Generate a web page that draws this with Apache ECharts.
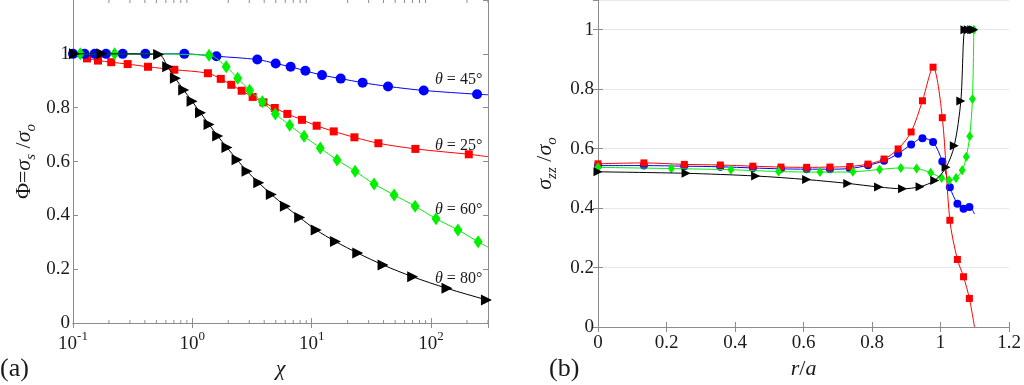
<!DOCTYPE html>
<html><head><meta charset="utf-8">
<script src="https://cdn.jsdelivr.net/npm/echarts@6/dist/echarts.min.js"></script>
<style>html,body{margin:0;padding:0;background:#fff}#c{width:1024px;height:385px}</style>
</head><body><div id="c"></div>
<script>
const FONT = 'Liberation Serif, Times New Roman, serif';
const AX = '#8c8c8c', TXT = '#1a1a1a';

// ---------- panel (a): Phi vs chi (log x) ----------
const aEnd45 = [300, 0.848];
const a45 = [[0.1,1],[0.125,1],[0.152,1],[0.189,1],[0.261,1],[0.404,1],[0.857,1],[1.59,0.991],[3.5,0.979],[4.99,0.964],[6.66,0.952],[8.85,0.937],[12.2,0.921],[17.5,0.908],[26.7,0.893],[43.6,0.879],[86.8,0.864],[243,0.850]];
const aStart25 = [0.1, 0.992], aEnd25 = [300, 0.618];
const a25 = [[0.131,0.983],[0.162,0.975],[0.209,0.969],[0.287,0.962],[0.425,0.952],[0.706,0.941],[1.35,0.928],[1.73,0.907],[2.12,0.885],[2.59,0.863],[3.20,0.840],[3.94,0.820],[4.90,0.799],[6.25,0.777],[8.29,0.755],[11.0,0.733],[15.3,0.712],[22.8,0.690],[36.2,0.668],[73.9,0.647],[207,0.627]];
const aStart60 = [0.1, 1.0],   aEnd60 = [300, 0.282];
const a60 = [[0.115,1],[0.223,1],[1.38,0.995],[1.92,0.952],[2.40,0.909],[3.02,0.865],[3.86,0.822],[4.96,0.777],[6.54,0.735],[8.63,0.694],[11.8,0.650],[16.3,0.606],[23.1,0.564],[33.3,0.517],[49.0,0.476],[73.5,0.434],[110,0.388],[168,0.346],[248,0.302]];
const aEnd80 = [300, 0.084];
const a80 = [[0.103,1],[0.175,1],[0.522,0.998],[0.621,0.952],[0.721,0.909],[0.846,0.866],[0.994,0.824],[1.17,0.781],[1.38,0.738],[1.63,0.695],[1.95,0.652],[2.37,0.607],[2.87,0.564],[3.60,0.521],[4.59,0.478],[6.02,0.434],[7.93,0.392],[10.9,0.346],[15.8,0.303],[24.3,0.260],[39.6,0.216],[70.2,0.172],[136,0.129],[291,0.086]];
const aLabels = ['45°','25°','60°','80°'];

// ---------- panel (b): sigma_zz vs r/a ----------
const b25 = [[0,0.549],[0.134,0.552],[0.252,0.547],[0.357,0.545],[0.452,0.541],[0.534,0.538],[0.609,0.537],[0.677,0.538],[0.735,0.540],[0.788,0.548],[0.835,0.565],[0.876,0.599],[0.914,0.656],[0.947,0.761],[0.978,0.874],[1.005,0.704],[1.027,0.359],[1.049,0.227],[1.067,0.169],[1.084,0.096]];
const bEnd25 = [1.099, 0];
const b45 = [[0,0.543],[0.134,0.543],[0.252,0.541],[0.357,0.539],[0.452,0.535],[0.534,0.532],[0.609,0.531],[0.677,0.531],[0.735,0.533],[0.788,0.544],[0.835,0.559],[0.876,0.583],[0.914,0.614],[0.947,0.635],[0.978,0.622],[1.005,0.557],[1.027,0.470],[1.049,0.415],[1.067,0.398],[1.084,0.404]];
const bEnd45 = [1.099, 0.38];
const b60 = [[0,0.537],[0.214,0.533],[0.388,0.529],[0.527,0.523],[0.648,0.521],[0.744,0.522],[0.822,0.530],[0.884,0.535],[0.930,0.533],[0.971,0.519],[1.003,0.501],[1.025,0.494],[1.045,0.501],[1.063,0.527],[1.075,0.573],[1.085,0.642],[1.093,0.767],[1.097,1.0]];
const b80 = [[0,0.522],[0.257,0.517],[0.460,0.508],[0.609,0.496],[0.729,0.483],[0.819,0.471],[0.889,0.465],[0.940,0.472],[0.983,0.493],[1.016,0.537],[1.040,0.610],[1.059,0.760],[1.071,1.0],[1.081,1.0],[1.091,1.0],[1.097,1.0]];

// log minor tick positions
const minorVals = [];
for (let k = -1; k <= 2; k++) for (let m = 2; m <= 9; m++) { const v = m * Math.pow(10, k); if (v <= 300) minorVals.push(v); }

const RED = '#ff0000', BLUE = '#0000ff', GREEN = '#00f000', BLACK = '#000000';

function withEnds(pts, start, end) {
  const d = pts.map(p => ({ value: p }));
  if (start) d.unshift({ value: start, symbol: 'none' });
  if (end) d.push({ value: end, symbol: 'none' });
  return d;
}
function ser(data, color, sym, size, rot, xi, yi, z) {
  return {
    type: 'line', data, xAxisIndex: xi, yAxisIndex: yi, smooth: 0.3, z,
    symbol: sym, symbolSize: size, symbolRotate: rot || 0, showAllSymbol: true,
    lineStyle: { color, width: 1 }, itemStyle: { color, borderWidth: 0 },
    emphasis: { disabled: true }, clip: true
  };
}
function minor(top) {
  return {
    type: 'custom', xAxisIndex: 0, yAxisIndex: 0, silent: true, z: 10, clip: false,
    data: minorVals.map(v => [v, top ? 1.2 : 0]),
    renderItem(params, api) {
      const p = api.coord([api.value(0), api.value(1)]);
      return { type: 'line', shape: { x1: p[0], y1: p[1], x2: p[0], y2: p[1] + (top ? 3 : -3) },
        style: { stroke: AX, lineWidth: 1 } };
    }
  };
}

const tickLab = { fontFamily: FONT, fontSize: 19, color: TXT };
const axLine = { show: true, lineStyle: { color: AX, width: 1 } };
const tickIn = { show: true, inside: true, length: 5, lineStyle: { color: AX } };
const subRich = {
  r: { fontFamily: FONT, fontSize: 22, color: TXT, verticalAlign: 'top', lineHeight: 24 },
  i: { fontFamily: FONT, fontSize: 22, color: TXT, fontStyle: 'italic', verticalAlign: 'top', lineHeight: 24 },
  s: { fontFamily: FONT, fontSize: 15, color: TXT, fontStyle: 'italic', verticalAlign: 'top', padding: [11, 0, 0, 0], lineHeight: 15 }
};

const option = {
  animation: false,
  grid: [
    { left: 73, right: 536, top: 0, bottom: 58, show: false },
    { left: 598, right: 12, top: 0, bottom: 58, show: false }
  ],
  xAxis: [
    { type: 'log', logBase: 10, min: 0.1, max: 300, gridIndex: 0, position: 'bottom',
      axisLine: axLine, axisTick: tickIn, splitLine: { show: false },
      name: 'χ', nameLocation: 'middle', nameGap: 30,
      nameTextStyle: { fontFamily: FONT, fontSize: 22, fontStyle: 'italic', color: TXT },
      axisLabel: { margin: 7, showMaxLabel: false, color: TXT,
        formatter: v => '{b|10}{e|' + Math.round(Math.log10(v)) + '}',
        rich: { b: { fontFamily: FONT, fontSize: 19, color: TXT, verticalAlign: 'top', padding: [4, 0, 0, 0], lineHeight: 19 },
                e: { fontFamily: FONT, fontSize: 13, color: TXT, verticalAlign: 'top', lineHeight: 13 } } } },
    { type: 'log', logBase: 10, min: 0.1, max: 300, gridIndex: 0, position: 'top',
      axisLine: axLine, axisTick: tickIn, axisLabel: { show: false }, splitLine: { show: false } },
    { type: 'value', min: 0, max: 1.2, interval: 0.2, gridIndex: 1, position: 'bottom',
      axisLine: axLine, axisTick: tickIn, splitLine: { show: false },
      name: '{i|r}{r|/}{i|a}', nameLocation: 'middle', nameGap: 30,
      nameTextStyle: { rich: subRich },
      axisLabel: Object.assign({ margin: 7 }, tickLab) },
    { type: 'value', min: 0, max: 1.2, interval: 0.2, gridIndex: 1, position: 'top',
      axisLine: axLine, axisTick: tickIn, axisLabel: { show: false }, splitLine: { show: false } }
  ],
  yAxis: [
    { type: 'value', min: 0, max: 1.2, interval: 0.2, gridIndex: 0, position: 'left',
      axisLine: axLine, axisTick: tickIn, splitLine: { show: false },
      name: '{r|Φ=}{i|σ}{s|s}{r| /}{i|σ}{s|o}', nameLocation: 'middle', nameGap: 36, nameRotate: 90,
      nameTextStyle: { rich: subRich },
      axisLabel: Object.assign({ margin: 3, showMaxLabel: false }, tickLab) },
    { type: 'value', min: 0, max: 1.2, interval: 0.2, gridIndex: 0, position: 'right',
      axisLine: axLine, axisTick: tickIn, axisLabel: { show: false }, splitLine: { show: false } },
    { type: 'value', min: 0, max: 1.1, interval: 0.2, gridIndex: 1, position: 'left',
      axisLine: axLine, axisTick: tickIn,
      splitLine: { show: true, lineStyle: { color: '#e8e8e8', width: 1 } },
      name: '{i|σ}{s|zz}{r| /}{i|σ}{s|o}', nameLocation: 'middle', nameGap: 40, nameRotate: 90,
      nameTextStyle: { rich: subRich },
      axisLabel: Object.assign({ margin: 4, showMaxLabel: false }, tickLab) },
    { type: 'value', min: 0, max: 1.1, interval: 0.2, gridIndex: 1, position: 'right',
      axisLine: axLine, axisTick: tickIn, axisLabel: { show: false }, splitLine: { show: false } }
  ],
  series: [
    ser(withEnds(a25, aStart25, aEnd25), RED, 'rect', 8, 0, 0, 0, 3),
    ser(withEnds(a45, null, aEnd45), BLUE, 'circle', 10, 0, 0, 0, 4),
    ser(withEnds(a60, aStart60, aEnd60), GREEN, 'diamond', [9, 13], 0, 0, 0, 5),
    ser(withEnds(a80, null, aEnd80), BLACK, 'triangle', 11, -90, 0, 0, 6),
    minor(false), minor(true),
    ser(withEnds(b45, null, bEnd45), BLUE, 'circle', 8, 0, 2, 2, 3),
    ser(withEnds(b25, null, bEnd25), RED, 'rect', 7, 0, 2, 2, 4),
    ser(withEnds(b60, null, null), GREEN, 'diamond', [7, 10], 0, 2, 2, 5),
    ser(withEnds(b80, null, null), BLACK, 'triangle', 9, -90, 2, 2, 6)
  ],
  graphic: [
    { type: 'text', left: 0, top: 356, style: { text: '(a)', font: '26px ' + FONT, fill: TXT } },
    { type: 'text', left: 549, top: 356, style: { text: '(b)', font: '26px ' + FONT, fill: TXT } },
    ...aLabels.map((t, i) => ({
      type: 'text', left: 435, top: [72, 138, 202, 271][i],
      style: { text: '{i|θ} = ' + t, font: '16px ' + FONT, fill: TXT,
        rich: { i: { fontFamily: FONT, fontSize: 16, fontStyle: 'italic', fill: TXT } } }
    }))
  ]
};
echarts.init(document.getElementById('c')).setOption(option);
</script></body></html>
